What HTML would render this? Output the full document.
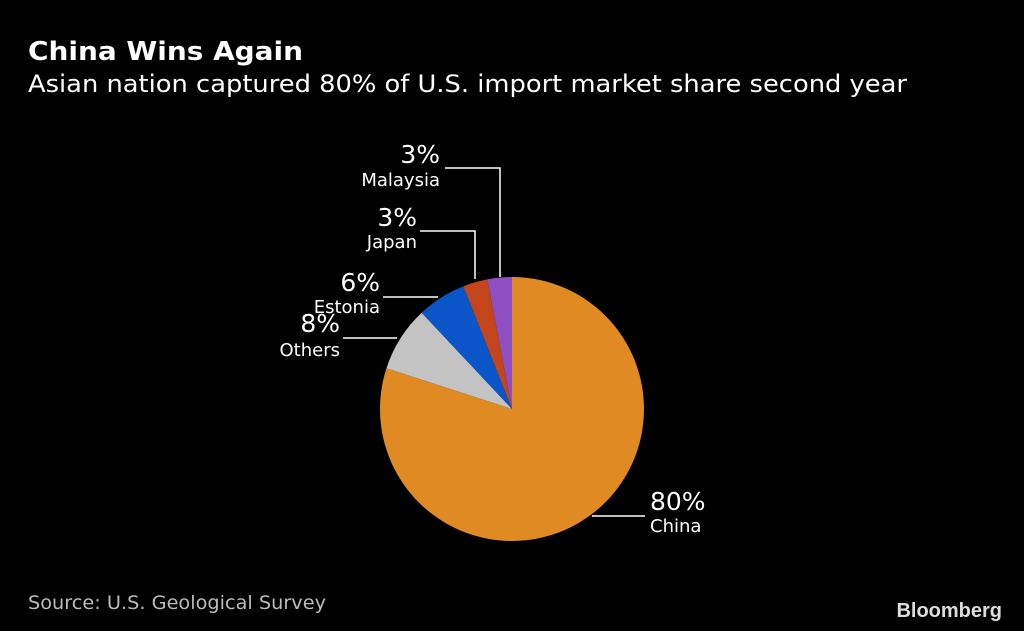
<!DOCTYPE html>
<html><head><meta charset="utf-8"><style>
body{margin:0;background:#000;width:1024px;height:631px;overflow:hidden;font-family:"DejaVu Sans","Liberation Sans",sans-serif;color:#fff}
svg{position:absolute;left:0;top:0;font-family:"DejaVu Sans","Liberation Sans",sans-serif}
</style></head><body>
<svg width="1024" height="631">
<text x="28" y="60" font-size="26" font-weight="bold" fill="#fff" textLength="275" lengthAdjust="spacingAndGlyphs">China Wins Again</text>
<text x="28" y="92" font-size="24" fill="#fff" textLength="879" lengthAdjust="spacingAndGlyphs">Asian nation captured 80% of U.S. import market share second year</text>
<g id="slices"></g>
<g id="labels" fill="#fff"></g>
<text x="28" y="609" font-size="19" fill="#bbb" textLength="298" lengthAdjust="spacingAndGlyphs">Source: U.S. Geological Survey</text>
<text x="1002" y="617" font-size="20" font-weight="bold" fill="#ddd" text-anchor="end" font-family="Liberation Sans">Bloomberg</text>
</svg>
<script>
const categories=["China","Others","Estonia","Japan","Malaysia"];
const values=[80,8,6,3,3];
const colors=["#e08a24","#c3c3c3","#0a55c8","#c4451c","#8e4fc0"];
const cx=512,cy=409,r=132;
const ns="http://www.w3.org/2000/svg";
const g=document.getElementById('slices');
const total=values.reduce((a,b)=>a+b,0);
let a0=0;
function pt(a){return [cx+r*Math.sin(a),cy-r*Math.cos(a)];}
values.forEach((v,i)=>{
  const a1=a0+v/total*2*Math.PI;
  const p0=pt(a0),p1=pt(a1);
  const p=document.createElementNS(ns,'path');
  p.setAttribute('d',`M${cx},${cy}L${p0[0]},${p0[1]}A${r},${r} 0 ${a1-a0>Math.PI?1:0} 1 ${p1[0]},${p1[1]}Z`);
  p.setAttribute('fill',colors[i]);
  
  
  g.appendChild(p);
  a0=a1;
});
const L=document.getElementById('labels');
const lab=[
 {i:4,line:"M445,168H500V277",px:440,py:163,ny:186,anchor:"end"},
 {i:3,line:"M420,231H475V279",px:417,py:226,ny:248,anchor:"end"},
 {i:2,line:"M383,297H438",px:380,py:291,ny:313,anchor:"end"},
 {i:1,line:"M343,338H397",px:340,py:332,ny:356,anchor:"end"},
 {i:0,line:"M592,516H645",px:650,py:510,ny:532,anchor:"start"}
];
lab.forEach(o=>{
  const ln=document.createElementNS(ns,'path');
  ln.setAttribute('d',o.line);ln.setAttribute('stroke','#fff');ln.setAttribute('stroke-width','1.5');ln.setAttribute('fill','none');
  
  
  L.appendChild(ln);
  const t1=document.createElementNS(ns,'text');
  t1.setAttribute('x',o.px);t1.setAttribute('y',o.py);t1.setAttribute('font-size','25');t1.setAttribute('text-anchor',o.anchor);
  t1.textContent=values[o.i]+'%';
  
  
  L.appendChild(t1);
  const t2=document.createElementNS(ns,'text');
  t2.setAttribute('x',o.px);t2.setAttribute('y',o.ny);t2.setAttribute('font-size','18');t2.setAttribute('text-anchor',o.anchor);
  t2.textContent=categories[o.i];
  
  
  L.appendChild(t2);
});
</script>
</body></html>
